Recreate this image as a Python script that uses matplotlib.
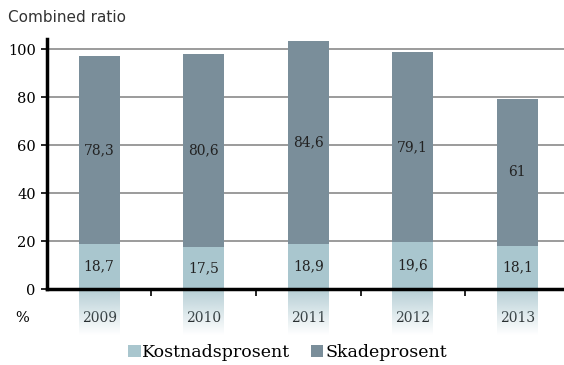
import numpy as np
import matplotlib.pyplot as plt
from matplotlib.colors import to_rgb

# data
years = ['2009', '2010', '2011', '2012', '2013']
kostnad = [18.7, 17.5, 18.9, 19.6, 18.1]
skade = [78.3, 80.6, 84.6, 79.1, 61]
kostnad_labels = ['18,7', '17,5', '18,9', '19,6', '18,1']
skade_labels = ['78,3', '80,6', '84,6', '79,1', '61']

light = '#a9c6ce'
dark = '#7a8e9a'
serif = 'DejaVu Serif'

fig = plt.figure(figsize=(5.64, 3.65), dpi=100)
ax = fig.add_axes([0.0833, 0.208, 0.9167, 0.684])

x = np.arange(len(years))
w = 0.39
ax.bar(x, kostnad, w, color=light, label='Kostnadsprosent', zorder=3)
ax.bar(x, skade, w, bottom=kostnad, color=dark, label='Skadeprosent', zorder=3)

for i in range(len(years)):
    ax.text(x[i], kostnad[i] / 2, kostnad_labels[i], ha='center', va='center',
            fontsize=10, family=serif, color='#222222', zorder=4)
    ax.text(x[i], kostnad[i] + skade[i] / 2, skade_labels[i], ha='center', va='center',
            fontsize=10, family=serif, color='#222222', zorder=4)

# faded extension of the light bars below the axis
rgb = to_rgb(light)
grad = np.ones((64, 1, 4))
grad[:, 0, :3] = rgb
grad[:, 0, 3] = np.linspace(0.85, 0.0, 64)
for i in range(len(years)):
    ax.imshow(grad, extent=(x[i] - w / 2, x[i] + w / 2, -19, 0), aspect='auto',
              clip_on=False, zorder=2, interpolation='bilinear')

ax.set_xlim(-0.5, 4.447)
ax.set_ylim(0, 104)
ax.set_yticks([0, 20, 40, 60, 80, 100])
ax.set_yticklabels(['0', '20', '40', '60', '80', '100'], family=serif, fontsize=10.5)
ax.yaxis.grid(True, color='#8a8a8a', linewidth=1.2, zorder=0)
ax.set_axisbelow(True)

ax.set_xticks(x)
ax.set_xticklabels(years, family=serif, fontsize=10)
ax.tick_params(axis='x', which='major', length=0, pad=16)
ax.set_xticks(x[:-1] + 0.5, minor=True)
ax.tick_params(axis='x', which='minor', length=5, width=1.2, direction='out')
ax.tick_params(axis='y', length=4, width=1.2, pad=4)

for s in ['top', 'right']:
    ax.spines[s].set_visible(False)
for s in ['left', 'bottom']:
    ax.spines[s].set_linewidth(2.5)
    ax.spines[s].set_zorder(5)

fig.text(0.039, 0.129, '%', family=serif, fontsize=10.5, ha='center', va='center')
fig.text(0.014, 0.953, 'Combined ratio', family='DejaVu Sans', fontsize=11,
         color='#333333', ha='left', va='center')

fig.legend(loc='center', bbox_to_anchor=(0.51, 0.035), ncol=2, frameon=False,
           prop={'family': serif, 'size': 12.5}, handlelength=0.7, handleheight=0.7,
           handletextpad=0.1, columnspacing=1.2)

fig.savefig('out.png', dpi=100)
